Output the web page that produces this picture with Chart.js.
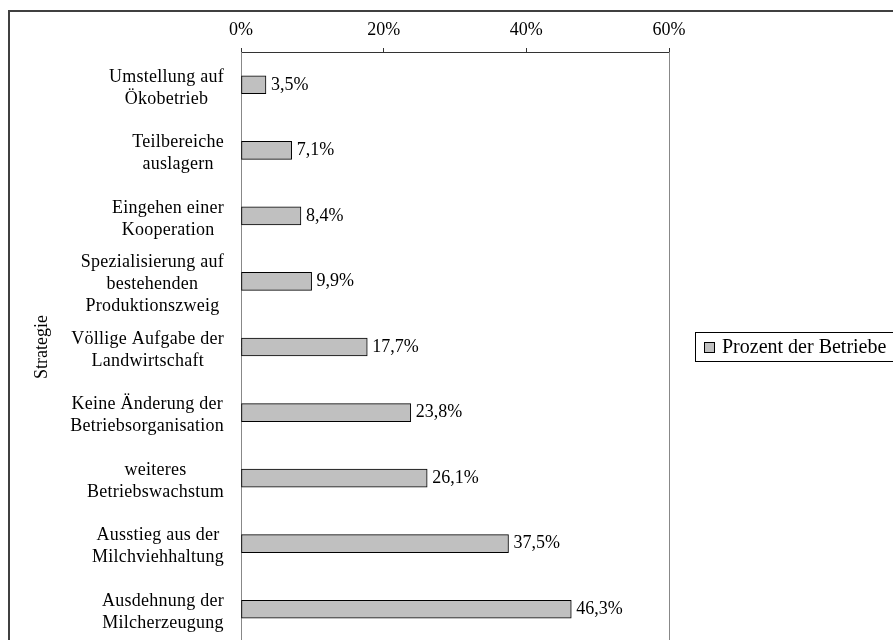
<!DOCTYPE html>
<html>
<head>
<meta charset="utf-8">
<script src="https://cdn.jsdelivr.net/npm/chart.js@4/dist/chart.umd.min.js"></script>
<style>
  html, body { margin: 0; padding: 0; background: #fff; overflow: hidden; width: 893px; height: 640px; }
  canvas { display: block; }
</style>
</head>
<body>
<canvas id="c" width="893" height="700"></canvas>
<script>
const categories = [
  ['Umstellung auf', 'Ökobetrieb'],
  ['Teilbereiche', 'auslagern'],
  ['Eingehen einer', 'Kooperation'],
  ['Spezialisierung auf', 'bestehenden', 'Produktionszweig'],
  ['Völlige Aufgabe der', 'Landwirtschaft'],
  ['Keine Änderung der', 'Betriebsorganisation'],
  ['weiteres', 'Betriebswachstum'],
  ['Ausstieg aus der', 'Milchviehhaltung'],
  ['Ausdehnung der', 'Milcherzeugung']
];
const values = [3.5, 7.1, 8.4, 9.9, 17.7, 23.8, 26.1, 37.5, 46.3];
const tickValues = [0, 20, 40, 60];
const seriesName = 'Prozent der Betriebe';
const axisTitle = 'Strategie';

const FONT = '"Liberation Serif", "Times New Roman", serif';

const decor = {
  id: 'decor',
  beforeDraw(chart) {
    const ctx = chart.ctx;
    ctx.save();
    ctx.strokeStyle = '#404040';
    ctx.lineWidth = 2;
    ctx.strokeRect(9, 11, 2000, 2000);
    ctx.restore();
  },
  afterDraw(chart) {
    const ctx = chart.ctx;
    const a = chart.chartArea;
    ctx.save();
    // right plot border
    ctx.strokeStyle = '#888';
    ctx.lineWidth = 1;
    ctx.beginPath();
    ctx.moveTo(Math.round(a.right) + 0.5, a.top);
    ctx.lineTo(Math.round(a.right) + 0.5, a.bottom);
    ctx.stroke();

    // category labels (each block centered, right aligned)
    const ys = chart.scales.y;
    ctx.font = '18px ' + FONT;
    if ('letterSpacing' in ctx) ctx.letterSpacing = '0.25px';
    ctx.fillStyle = '#000';
    ctx.textAlign = 'center';
    ctx.textBaseline = 'middle';
    categories.forEach((lines, i) => {
      const y = ys.getPixelForTick(i);
      const w = Math.max(...lines.map(l => ctx.measureText(l).width));
      const cx = 224 - w / 2;
      const lh = 22;
      const y0 = y + 3 - (lines.length - 1) * lh / 2;
      lines.forEach((l, j) => ctx.fillText(l, cx, y0 + j * lh));
    });
    if ('letterSpacing' in ctx) ctx.letterSpacing = '0px';

    // data labels
    ctx.textAlign = 'left';
    const meta = chart.getDatasetMeta(0);
    meta.data.forEach((bar, i) => {
      ctx.fillText(values[i].toFixed(1).replace('.', ',') + '%', bar.x + 5, bar.y);
    });

    // legend
    const lx = 695, ly = 332;
    ctx.strokeStyle = '#000';
    ctx.lineWidth = 1;
    ctx.strokeRect(lx + 0.5, ly + 0.5, 240, 29);
    ctx.fillStyle = '#C0C0C0';
    ctx.fillRect(704.5, 342.5, 10, 10);
    ctx.strokeRect(704.5, 342.5, 10, 10);
    ctx.fillStyle = '#000';
    ctx.font = '20px ' + FONT;
    ctx.fillText(chart.data.datasets[0].label, 722, 348);
    ctx.restore();
  }
};

new Chart(document.getElementById('c'), {
  type: 'bar',
  data: {
    labels: categories,
    datasets: [{
      label: seriesName,
      data: values,
      backgroundColor: '#C0C0C0',
      borderColor: '#000',
      borderWidth: 1,
      borderSkipped: false,
      barThickness: 18
    }]
  },
  options: {
    indexAxis: 'y',
    responsive: false,
    animation: false,
    devicePixelRatio: 1,
    layout: { padding: { left: 0, top: 0, right: 224, bottom: 58 } },
    plugins: { legend: { display: false }, tooltip: { enabled: false } },
    scales: {
      x: {
        position: 'top',
        min: 0,
        max: 60,
        afterBuildTicks: s => { s.ticks = tickValues.map(v => ({ value: v })); },
        afterFit: s => { s.height = 52; },
        ticks: {
          callback: v => v + '%',
          font: { family: FONT, size: 18 },
          color: '#000',
          padding: 7,
          maxRotation: 0
        },
        grid: { drawOnChartArea: false, tickLength: 4, color: '#333' },
        border: { color: '#333', width: 1 }
      },
      y: {
        afterFit: s => { s.width = 241; },
        ticks: { display: false },
        grid: { display: false },
        border: { display: true, color: '#888', width: 1 },
        title: {
          display: true,
          text: axisTitle,
          font: { family: FONT, size: 18 },
          color: '#000',
          padding: { top: 31, bottom: 0 }
        }
      }
    }
  },
  plugins: [decor]
});
</script>
</body>
</html>
